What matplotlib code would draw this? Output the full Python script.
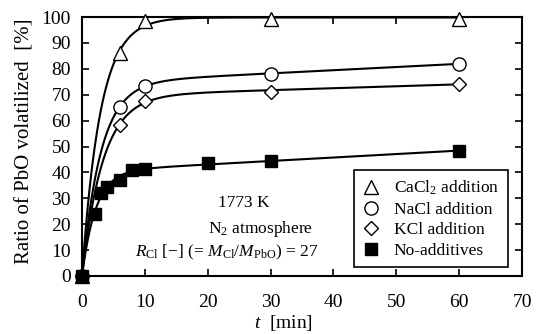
import numpy as np
import matplotlib
matplotlib.use('Agg')
import matplotlib.pyplot as plt
from matplotlib.lines import Line2D

plt.rcParams['font.family'] = 'Liberation Serif'
plt.rcParams['mathtext.fontset'] = 'custom'
plt.rcParams['mathtext.rm'] = 'Liberation Serif'
plt.rcParams['mathtext.it'] = 'Liberation Serif:italic'

#---
# data
#---
t_cacl2 = [0, 6, 10, 30, 60]
y_cacl2 = [0, 86, 98.5, 99.3, 99.3]

t_nacl = [0, 6, 10, 30, 60]
y_nacl = [0, 65.3, 73.4, 78, 82]

t_kcl = [0, 6, 10, 30, 60]
y_kcl = [0, 58.3, 67.6, 71.2, 74.2]

t_none = [0, 2, 3, 4, 6, 8, 10, 20, 30, 60]
y_none = [0, 23.8, 32, 34.4, 37, 40.8, 41.3, 43.8, 44.5, 48.2]

labels = ['CaCl$_2$ addition', 'NaCl addition', 'KCl addition', 'No-additives']


#----
# smooth curve: least squares fit of A(1-exp(-kt)) + Bt  (B >= 0)
#--
def fit_curve(t, y):
    t = np.array(t, float)
    y = np.array(y, float)
    best = None
    for k in np.logspace(-2, 1, 400):
        e = 1 - np.exp(-k*t)
        M = np.column_stack([e, t])
        c = np.linalg.lstsq(M, y, rcond=None)[0]
        if c[1] < 0:
            c = np.array([np.dot(e, y)/np.dot(e, e), 0.])
        err = np.sum((M @ c - y)**2)
        if best is None or err < best[0]:
            best = (err, k, c)
    err, k, c = best
    tt = np.linspace(0, t.max(), 400)
    return tt, c[0]*(1 - np.exp(-k*tt)) + c[1]*tt


fig = plt.figure(figsize=(5.39, 3.34), dpi=100)
ax = fig.add_axes([82/539, 1-276/334, 440/539, 259/334])

series = [(t_cacl2, y_cacl2, '^', 'white', 10),
          (t_nacl, y_nacl, 'o', 'white', 9.5),
          (t_kcl, y_kcl, 'D', 'white', 7.5),
          (t_none, y_none, 's', 'black', 9)]

handles = []
for (t, y, mk, fc, ms), lab in zip(series, labels):
    tt, yy = fit_curve(t, y)
    ax.plot(tt, yy, color='black', lw=1.5, zorder=2)
    ax.plot(t, y, linestyle='none', marker=mk, ms=ms, mfc=fc, mec='black',
            mew=1.0, zorder=3, clip_on=False)
    handles.append(Line2D([], [], linestyle='none', marker=mk, ms=ms,
                          mfc=fc, mec='black', mew=1.0))

ax.set_xlim(0, 70)
ax.set_ylim(0, 100)
ax.set_xticks(np.arange(0, 71, 10))
ax.set_yticks(np.arange(0, 101, 10))
ax.tick_params(direction='in', length=5, width=1.2, top=True, right=True,
               labelsize=14)
ax.tick_params(axis='x', pad=13)
ax.tick_params(axis='y', pad=8)
for s in ax.spines.values():
    s.set_linewidth(1.5)

ax.set_xlabel('$t$  [min]', fontsize=14)
ax.xaxis.set_label_coords(0.457, -0.143)
ax.set_ylabel('Ratio of PbO volatilized  [%]', fontsize=15)
ax.yaxis.set_label_coords(-0.108, 0.52)

ax.text(21.6, 28, '1773 K', fontsize=12.5, va='center')
ax.text(20.0, 18, 'N$_2$ atmosphere', fontsize=12.5, va='center')
ax.text(8.4, 9.2, '$R_{\\rm Cl}$ [$-$] (= $M_{\\rm Cl}$/$M_{\\rm PbO}$) = 27',
        fontsize=12.5, va='center')

leg = ax.legend(handles, labels, loc='lower right',
                bbox_to_anchor=(0.988, 0.0), fontsize=12.5, frameon=True,
                fancybox=False, edgecolor='black', framealpha=1,
                handlelength=1.0, handletextpad=0.8, labelspacing=0.25,
                borderpad=0.5)
leg.get_frame().set_linewidth(1.2)

plt.savefig('out.png', dpi=100)
